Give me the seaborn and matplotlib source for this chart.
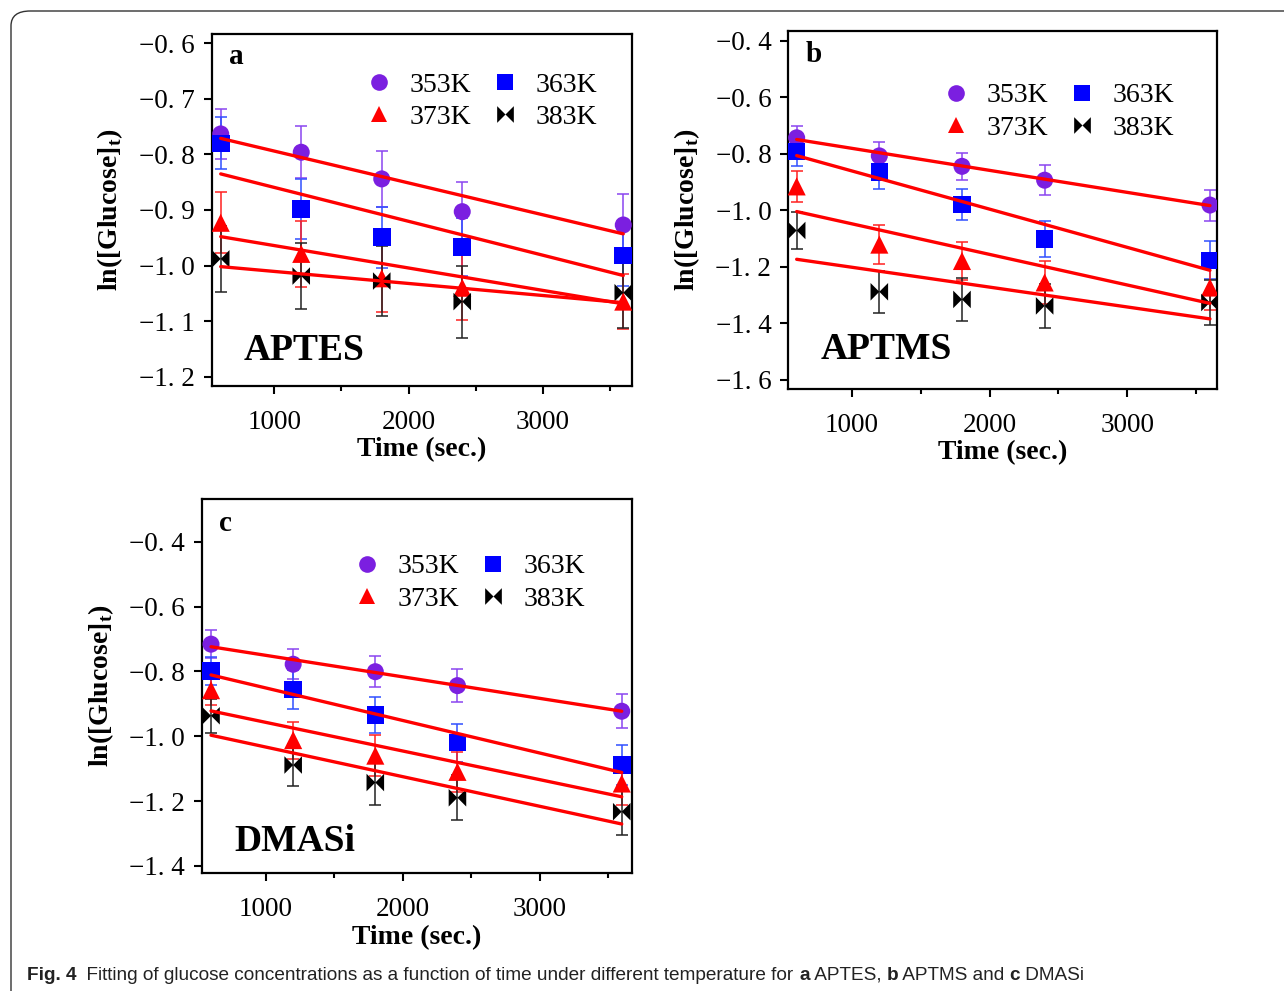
import numpy as np
import matplotlib
matplotlib.use("Agg")
import matplotlib.pyplot as plt
import seaborn as sns
from matplotlib.lines import Line2D
from matplotlib.path import Path
from matplotlib.markers import MarkerStyle
from matplotlib.patches import FancyBboxPatch

sns.set_style("ticks")
plt.rcParams['font.family'] = ['Liberation Serif', 'DejaVu Serif']
plt.rcParams['mathtext.fontset'] = 'custom'
plt.rcParams['mathtext.rm'] = 'Liberation Serif'
plt.rcParams['mathtext.bf'] = 'Liberation Serif:bold'
plt.rcParams['text.color'] = 'black'
plt.rcParams['axes.labelcolor'] = 'black'
plt.rcParams['xtick.color'] = 'black'
plt.rcParams['ytick.color'] = 'black'

# ------------------------------------------
# DATA
# ------------------------------------------
time_s = [600, 1200, 1800, 2400, 3600]
fit_x = [600, 3600]
temps = ['353K', '363K', '373K', '383K']

# a: APTES
aptes_353 = [-0.763, -0.796, -0.844, -0.903, -0.927]
aptes_363 = [-0.780, -0.898, -0.949, -0.967, -0.982]
aptes_373 = [-0.923, -0.979, -1.023, -1.040, -1.065]
aptes_383 = [-0.988, -1.019, -1.028, -1.065, -1.049]
aptes_353_err = [0.045, 0.047, 0.051, 0.054, 0.056]
aptes_363_err = [0.047, 0.054, 0.055, 0.052, 0.055]
aptes_373_err = [0.055, 0.059, 0.061, 0.059, 0.050]
aptes_383_err = [0.059, 0.060, 0.063, 0.065, 0.063]
aptes_fit_353 = [-0.771, -0.943]
aptes_fit_363 = [-0.835, -1.018]
aptes_fit_373 = [-0.948, -1.069]
aptes_fit_383 = [-1.002, -1.067]

# b: APTMS
aptms_353 = [-0.743, -0.807, -0.844, -0.893, -0.981]
aptms_363 = [-0.791, -0.865, -0.979, -1.102, -1.177]
aptms_373 = [-0.915, -1.121, -1.179, -1.255, -1.273]
aptms_383 = [-1.071, -1.288, -1.315, -1.338, -1.326]
aptms_353_err = [0.041, 0.049, 0.049, 0.053, 0.055]
aptms_363_err = [0.053, 0.058, 0.056, 0.064, 0.067]
aptms_373_err = [0.054, 0.068, 0.068, 0.075, 0.078]
aptms_383_err = [0.065, 0.075, 0.077, 0.078, 0.079]
aptms_fit_353 = [-0.749, -0.983]
aptms_fit_363 = [-0.806, -1.212]
aptms_fit_373 = [-1.004, -1.329]
aptms_fit_383 = [-1.173, -1.384]

# c: DMASi
dmasi_353 = [-0.716, -0.778, -0.801, -0.844, -0.923]
dmasi_363 = [-0.799, -0.856, -0.935, -1.020, -1.089]
dmasi_373 = [-0.858, -1.012, -1.060, -1.110, -1.146]
dmasi_383 = [-0.937, -1.089, -1.143, -1.190, -1.233]
dmasi_353_err = [0.043, 0.047, 0.048, 0.052, 0.053]
dmasi_363_err = [0.042, 0.059, 0.055, 0.059, 0.063]
dmasi_373_err = [0.046, 0.057, 0.064, 0.062, 0.067]
dmasi_383_err = [0.053, 0.065, 0.068, 0.069, 0.072]
dmasi_fit_353 = [-0.724, -0.923]
dmasi_fit_363 = [-0.811, -1.112]
dmasi_fit_373 = [-0.922, -1.187]
dmasi_fit_383 = [-0.997, -1.271]

yticks_a = [-0.6, -0.7, -0.8, -0.9, -1.0, -1.1, -1.2]
yticklabels_a = ['\u22120. 6', '\u22120. 7', '\u22120. 8', '\u22120. 9',
                 '\u22121. 0', '\u22121. 1', '\u22121. 2']
yticks_bc = [-0.4, -0.6, -0.8, -1.0, -1.2, -1.4, -1.6]
yticklabels_bc = ['\u22120. 4', '\u22120. 6', '\u22120. 8', '\u22121. 0',
                  '\u22121. 2', '\u22121. 4', '\u22121. 6']
xticks = [1000, 2000, 3000]
xticklabels = ['1000', '2000', '3000']

# ------------------------------------------
# STYLE
# ------------------------------------------
bowtie = MarkerStyle(Path([(-1, -1), (-1, 1), (0, 0), (1, 1), (1, -1), (0, 0), (-1, -1)],
                          [1, 2, 2, 2, 2, 2, 79]))
marker_colors = ['#7B1FE0', '#0000FF', '#FF0000', '#000000']
bar_colors = ['#8A45F0', '#3050FF', '#FF2020', '#222222']
marker_shapes = ['o', 's', '^', bowtie]
marker_sizes = [150, 160, 170, 160]


def draw_panel(ax, ys, errs, fits, xlim, ylim, yticks, yticklabels, letter, name,
               name_y, leg_xy, ylab_x):
    for i in range(4):
        ax.errorbar(time_s, ys[i], yerr=errs[i], fmt='none', ecolor=bar_colors[i],
                    elinewidth=1.1, capsize=4.5, capthick=1.1, zorder=2)
    for i in range(4):
        sns.scatterplot(x=time_s, y=ys[i], marker=marker_shapes[i], s=marker_sizes[i],
                        color=marker_colors[i], edgecolor='none', linewidth=0,
                        ax=ax, zorder=3)
    for i in range(4):
        sns.lineplot(x=fit_x, y=fits[i], color='#FF0000', linewidth=2.4, ax=ax, zorder=4)

    ax.set_xlim(xlim)
    ax.set_ylim(ylim)
    ax.set_xticks(xticks)
    ax.set_xticklabels(xticklabels)
    ax.set_xticks([1500, 2500, 3500], minor=True)
    ax.set_yticks(yticks)
    ax.set_yticklabels(yticklabels)
    ax.tick_params(axis='both', which='major', direction='out', length=6, width=1.5,
                   labelsize=19.5, colors='black')
    ax.tick_params(axis='x', which='major', pad=11)
    ax.tick_params(axis='y', which='major', pad=6)
    ax.tick_params(axis='x', which='minor', direction='out', length=3.5, width=1.5)
    for sp in ax.spines.values():
        sp.set_visible(True)
        sp.set_linewidth(1.6)
        sp.set_color('black')

    ax.set_xlabel('Time (sec.)', fontsize=20, fontweight='bold', labelpad=2)
    ax.set_ylabel(r'ln([Glucose]$_{\mathbf{t}}$)', fontsize=20, fontweight='bold')
    ax.yaxis.set_label_coords(ylab_x, 0.5)

    ax.text(0.04, 0.935, letter, transform=ax.transAxes, fontsize=21,
            fontweight='bold', ha='left', va='center')
    ax.text(0.075, name_y, name, transform=ax.transAxes, fontsize=27,
            fontweight='bold', ha='left', va='center')

    handles = []
    for i in [0, 2, 1, 3]:
        handles.append(Line2D([], [], linestyle='none', marker=marker_shapes[i],
                              markersize=12, color=marker_colors[i],
                              markeredgewidth=0, label=temps[i]))
    ax.legend(handles=handles, ncol=2, frameon=False, loc='upper left',
              bbox_to_anchor=leg_xy, fontsize=20, handlelength=1.0,
              handletextpad=0.6, columnspacing=0.7, labelspacing=0.25,
              borderpad=0, borderaxespad=0)


fig = plt.figure(figsize=(12.84, 9.91), dpi=100)

ax_a = fig.add_axes([0.1649, 0.6105, 0.3273, 0.3552])
ax_b = fig.add_axes([0.6137, 0.6075, 0.3341, 0.3612])
ax_c = fig.add_axes([0.1571, 0.1188, 0.3349, 0.3777])

draw_panel(ax_a,
           [aptes_353, aptes_363, aptes_373, aptes_383],
           [aptes_353_err, aptes_363_err, aptes_373_err, aptes_383_err],
           [aptes_fit_353, aptes_fit_363, aptes_fit_373, aptes_fit_383],
           (533, 3665), (-1.217, -0.583), yticks_a, yticklabels_a, 'a', 'APTES',
           0.102, (0.366, 0.891), -0.206)
draw_panel(ax_b,
           [aptms_353, aptms_363, aptms_373, aptms_383],
           [aptms_353_err, aptms_363_err, aptms_373_err, aptms_383_err],
           [aptms_fit_353, aptms_fit_363, aptms_fit_373, aptms_fit_383],
           (537, 3651), (-1.632, -0.365), yticks_bc, yticklabels_bc, 'b', 'APTMS',
           0.109, (0.36, 0.855), -0.2)
draw_panel(ax_c,
           [dmasi_353, dmasi_363, dmasi_373, dmasi_383],
           [dmasi_353_err, dmasi_363_err, dmasi_373_err, dmasi_383_err],
           [dmasi_fit_353, dmasi_fit_363, dmasi_fit_373, dmasi_fit_383],
           (532, 3673), (-1.423, -0.268), yticks_bc[:6], yticklabels_bc[:6], 'c', 'DMASi',
           0.084, (0.353, 0.853), -0.2)

# outer rounded frame
frame = FancyBboxPatch((11 / 1284, -0.2), 1.2, 0.2 + 1 - 11 / 991,
                       boxstyle='round,pad=0,rounding_size=0.015',
                       transform=fig.transFigure, facecolor='none',
                       edgecolor='#333333', linewidth=1.0, zorder=0)
fig.add_artist(frame)

# caption with mixed bold pieces
cap_ax = fig.add_axes([0, 0, 1, 1], facecolor='none')
cap_ax.set_axis_off()
cap_font = ['Liberation Sans Narrow', 'Liberation Sans', 'DejaVu Sans']
pieces = [('Fig. 4', 'bold'),
          ('  Fitting of glucose concentrations as a function of time under different temperature for ', 'normal'),
          ('a', 'bold'), (' APTES, ', 'normal'), ('b', 'bold'), (' APTMS and ', 'normal'),
          ('c', 'bold'), (' DMASi', 'normal')]
prev = cap_ax.text(27 / 1284, 1 - 975 / 991, pieces[0][0], fontsize=13.7,
                   fontweight=pieces[0][1], family=cap_font, ha='left', va='center',
                   transform=cap_ax.transAxes, color='#222222')
for txt, wt in pieces[1:]:
    prev = cap_ax.annotate(txt, xy=(1, 0.5), xycoords=prev, fontsize=13.7,
                           fontweight=wt, family=cap_font, ha='left', va='center',
                           color='#222222')

fig.savefig('out.png', dpi=100)
